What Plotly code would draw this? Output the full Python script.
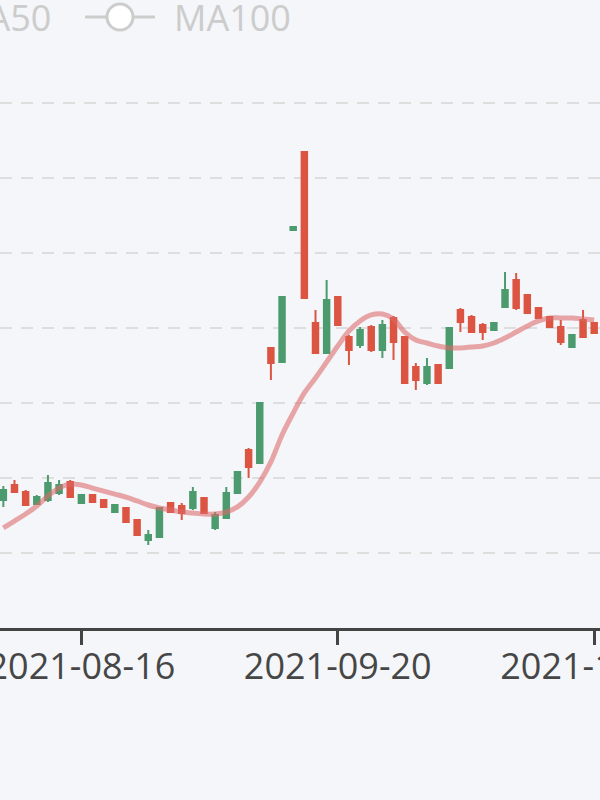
import plotly.graph_objects as go

# ---- data ----
dates = [
    "2021-08-05", "2021-08-06", "2021-08-09", "2021-08-10", "2021-08-11", "2021-08-12", "2021-08-13",
    "2021-08-16", "2021-08-17", "2021-08-18", "2021-08-19", "2021-08-20",
    "2021-08-23", "2021-08-24", "2021-08-25", "2021-08-26", "2021-08-27",
    "2021-08-31", "2021-09-01", "2021-09-02", "2021-09-03",
    "2021-09-07", "2021-09-08", "2021-09-09", "2021-09-10",
    "2021-09-13", "2021-09-14", "2021-09-15", "2021-09-16", "2021-09-17",
    "2021-09-20", "2021-09-21", "2021-09-22", "2021-09-23", "2021-09-24",
    "2021-09-27", "2021-09-28", "2021-09-29", "2021-09-30", "2021-10-01",
    "2021-10-04", "2021-10-05", "2021-10-06", "2021-10-07", "2021-10-08",
    "2021-10-11", "2021-10-12", "2021-10-13", "2021-10-14", "2021-10-15",
    "2021-10-18", "2021-10-19", "2021-10-20", "2021-10-21",
]

open_ = [28.53, 29.53, 29.07, 28.27, 28.53, 29.00, 29.73, 28.33, 28.87, 28.53,
         27.73, 28.00, 27.20, 25.87, 26.07, 28.33, 28.13, 28.00, 28.67, 26.67,
         27.33, 29.00, 31.87, 31.00, 38.67, 37.73, 46.53, 51.73, 40.33, 38.33,
         42.07, 39.40, 38.87, 40.07, 38.53, 40.67, 39.40, 37.40, 36.33, 37.53,
         37.33, 41.20, 40.73, 40.20, 39.87, 41.40, 43.20, 42.20, 41.33, 40.73,
         40.07, 38.73, 40.53, 40.33]
close = [29.20, 29.07, 28.20, 28.73, 29.67, 29.53, 28.73, 28.87, 28.40, 28.07,
         28.20, 27.07, 26.20, 26.20, 28.00, 27.73, 27.67, 29.07, 27.67, 27.53,
         29.00, 30.40, 30.73, 35.00, 37.67, 42.07, 46.73, 42.00, 38.33, 41.87,
         40.20, 38.53, 39.87, 38.53, 40.20, 39.07, 36.33, 36.53, 37.40, 36.33,
         40.00, 40.40, 39.73, 39.73, 40.33, 42.53, 41.33, 41.00, 40.67, 40.07,
         39.07, 39.53, 39.40, 39.67]
high = [29.47, 29.87, 29.20, 28.87, 30.20, 29.87, 29.87, 28.93, 28.93, 28.60,
        28.27, 28.07, 27.27, 26.53, 28.07, 28.40, 28.33, 29.40, 28.73, 27.73,
        29.40, 30.47, 32.00, 35.07, 38.73, 42.13, 46.80, 51.80, 41.20, 43.20,
        42.13, 39.53, 40.07, 40.20, 40.53, 40.80, 39.47, 37.67, 38.00, 37.60,
        40.07, 41.33, 40.87, 40.33, 40.40, 43.73, 43.67, 42.27, 41.40, 40.80,
        40.53, 39.60, 41.20, 40.40]
low = [28.07, 29.00, 28.13, 28.20, 28.40, 28.87, 28.73, 28.27, 28.33, 28.00,
       27.67, 27.00, 26.13, 25.53, 26.00, 27.67, 27.20, 27.87, 27.60, 26.53,
       27.27, 28.93, 30.00, 30.93, 36.53, 37.67, 46.47, 41.93, 38.27, 38.27,
       40.13, 37.53, 38.67, 38.40, 38.00, 37.87, 36.27, 35.87, 36.20, 36.27,
       37.27, 39.73, 39.67, 39.20, 39.80, 41.33, 41.20, 40.93, 40.60, 40.00,
       38.87, 38.67, 39.33, 39.60]

ma_line = [26.67, 27.13, 27.60, 28.13, 28.80, 29.33, 29.60, 29.53, 29.33, 29.13,
           28.93, 28.73, 28.47, 28.20, 28.00, 27.87, 27.73, 27.67, 27.60, 27.60,
           27.73, 28.07, 28.73, 29.73, 31.07, 32.87, 34.33, 35.67, 36.67, 37.73,
           38.80, 39.80, 40.47, 40.87, 40.93, 40.60, 39.73, 39.20, 39.00, 38.80,
           38.67, 38.67, 38.73, 38.80, 39.00, 39.33, 39.73, 40.13, 40.47, 40.67,
           40.67, 40.67, 40.60, 40.53]

tick_labels = ["2021-08-16", "2021-09-20", "2021-10-21"]
legend_names = ["MA50", "MA100"]

# ---- styling ----
UP = "#4c9b6e"
DOWN = "#dc5442"
BG = "#f4f6f9"
FONT = "Open Sans"

fig = go.Figure()
fig.add_trace(go.Candlestick(
    x=dates, open=open_, high=high, low=low, close=close,
    increasing=dict(line=dict(color=UP, width=2), fillcolor=UP),
    decreasing=dict(line=dict(color=DOWN, width=2), fillcolor=DOWN),
    whiskerwidth=0, hoverinfo="skip", name="K",
))
fig.add_trace(go.Scatter(
    x=dates, y=ma_line, mode="lines",
    line=dict(color="rgba(222,105,105,0.58)", width=5, shape="spline", smoothing=1.0),
    hoverinfo="skip", name="MA",
))

# legend drawn by hand (partially off-canvas, both items disabled/grey)
W, H = 600, 800
T, B = 90, 628
PX_PER_UNIT = 15.0
Y0 = 20
def px(x):
    return x / W
def py(y):
    return (B - y) / (B - T)

fig.add_annotation(x=px(53), y=py(17), xref="paper", yref="paper", text=legend_names[0],
                   showarrow=False, xanchor="right", yanchor="middle",
                   font=dict(family=FONT, size=36, color="#cccccc"))
fig.add_annotation(x=px(172), y=py(17), xref="paper", yref="paper", text=legend_names[1],
                   showarrow=False, xanchor="left", yanchor="middle",
                   font=dict(family=FONT, size=36, color="#cccccc"))
fig.add_shape(type="line", xref="paper", yref="paper", x0=px(85), x1=px(155), y0=py(17), y1=py(17),
              line=dict(color="#cccccc", width=3))
fig.add_shape(type="circle", xref="paper", yref="paper", x0=px(107), x1=px(133), y0=py(30), y1=py(4),
              fillcolor="white", line=dict(color="#cccccc", width=3))

fig.update_layout(
    width=W, height=H,
    margin=dict(l=0, r=0, t=T, b=H - B, pad=0),
    paper_bgcolor=BG, plot_bgcolor=BG,
    showlegend=False,
    boxgap=0.3,
    xaxis=dict(
        type="category", range=[-0.30, 53.52], rangeslider=dict(visible=False),
        tickmode="array", tickvals=tick_labels, ticktext=tick_labels,
        ticks="outside", ticklen=14, tickwidth=2.5, tickcolor="#444444",
        showline=True, linecolor="#444444", linewidth=2.5,
        showgrid=False, zeroline=False, automargin=False,
        ticklabelstandoff=-9,
        tickfont=dict(family=FONT, size=36, color="#464646"),
    ),
    yaxis=dict(
        range=[Y0, Y0 + (B - T) / PX_PER_UNIT], tick0=20, dtick=5, showticklabels=False,
        showgrid=True, gridcolor="#dedede", gridwidth=2, griddash="12px,9px",
        zeroline=False, showline=False, automargin=False,
    ),
)

fig.write_html(
    "out.html",
    config={"displayModeBar": False},
    post_script="document.body.style.margin='0';document.body.style.overflow='hidden';",
)
